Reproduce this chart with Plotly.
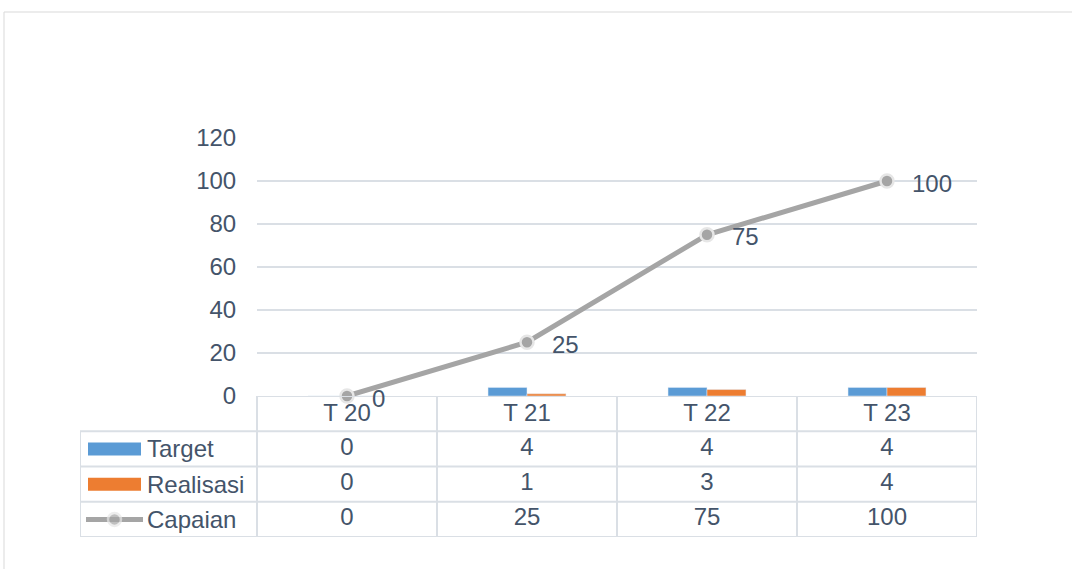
import plotly.graph_objects as go

categories = ["T 20", "T 21", "T 22", "T 23"]
target = [0, 4, 4, 4]
realisasi = [0, 1, 3, 4]
capaian = [0, 25, 75, 100]
series_names = ["Target", "Realisasi", "Capaian"]
y_ticks = [0, 20, 40, 60, 80, 100, 120]

BLUE = "#5b9bd5"
ORANGE = "#ed7d31"
GRAY = "#a5a5a5"
TXT = "#44546a"
GRID = "#dadfe5"
FONT = "Liberation Sans, Arial, sans-serif"
FS = 24

# layout geometry (pixels)
W, H = 1072, 569
L, R, T, B = 80, 95, 138, 32
pw = W - L - R
ph = H - T - B
chart_left = 257
col_w = 180
table_h = 141
xl = -0.5 - (chart_left - L) / col_w  # left edge of table label column in x2 units

fig = go.Figure()

fig.add_trace(go.Bar(x=categories, y=target, name="Target", marker=dict(color=BLUE),
                     xaxis="x", yaxis="y"))
fig.add_trace(go.Bar(x=categories, y=realisasi, name="Realisasi", marker=dict(color=ORANGE),
                     xaxis="x", yaxis="y"))
fig.add_trace(go.Scatter(x=categories, y=capaian, name="Capaian", mode="lines+markers",
                         line=dict(color=GRAY, width=5),
                         marker=dict(size=13, color=GRAY, line=dict(color="#e6e6e6", width=2.5)),
                         cliponaxis=False, xaxis="x", yaxis="y"))

annotations = []
# data labels on the line
for c, v in zip(categories, capaian):
    annotations.append(dict(xref="x", yref="y", x=c, y=v, text=str(v), showarrow=False,
                            xanchor="left", yanchor="middle", xshift=23, yshift=-2,
                            font=dict(family=FONT, size=FS, color=TXT)))

# ---- data table (x2/y2) ----
rows = [target, realisasi, capaian]
row_y = [2.5, 1.5, 0.5]
tx, ty, tt = [], [], []
for i, c in enumerate(categories):
    tx.append(i); ty.append(3.45); tt.append(c)
for r, vals in enumerate(rows):
    for i, v in enumerate(vals):
        tx.append(i); ty.append(row_y[r]); tt.append(str(v))
fig.add_trace(go.Scatter(x=tx, y=ty, mode="text", text=tt, textposition="middle center",
                         textfont=dict(family=FONT, size=FS, color=TXT),
                         cliponaxis=False, xaxis="x2", yaxis="y2", hoverinfo="skip"))

# Capaian legend key
kx0 = xl + 6 / col_w
kx1 = xl + 63 / col_w
fig.add_trace(go.Scatter(x=[kx0, (kx0 + kx1) / 2, kx1], y=[0.5, 0.5, 0.5], mode="lines+markers",
                         line=dict(color=GRAY, width=5),
                         marker=dict(size=[0, 13, 0], color=GRAY, line=dict(color="#e6e6e6", width=[0, 2.5, 0])),
                         cliponaxis=False, xaxis="x2", yaxis="y2", hoverinfo="skip"))

shapes = []
lc = dict(color=GRID, width=2)
# horizontal table lines
shapes.append(dict(type="line", xref="x2", yref="y2", x0=-0.5, x1=3.5, y0=4, y1=4, line=lc, layer="below"))
for yv in [3, 2, 1, 0]:
    shapes.append(dict(type="line", xref="x2", yref="y2", x0=xl, x1=3.5, y0=yv, y1=yv, line=lc, layer="below"))
# vertical table lines
for xv in [-0.5, 0.5, 1.5, 2.5, 3.5]:
    shapes.append(dict(type="line", xref="x2", yref="y2", x0=xv, x1=xv, y0=0, y1=4, line=lc, layer="below"))
shapes.append(dict(type="line", xref="x2", yref="y2", x0=xl, x1=xl, y0=0, y1=3, line=lc, layer="below"))
# legend keys (rects)
kh = 13 / (table_h / 4) / 2
kr0 = xl + 8 / col_w
kr1 = xl + 61 / col_w
shapes.append(dict(type="rect", xref="x2", yref="y2", x0=kr0, x1=kr1, y0=2.5 - kh, y1=2.5 + kh,
                   fillcolor=BLUE, line=dict(width=0)))
shapes.append(dict(type="rect", xref="x2", yref="y2", x0=kr0, x1=kr1, y0=1.5 - kh, y1=1.5 + kh,
                   fillcolor=ORANGE, line=dict(width=0)))
# outer chart frame
shapes.append(dict(type="rect", xref="paper", yref="paper",
                   x0=(4 - L) / pw, x1=(W + 10 - L) / pw,
                   y0=-(H + 10 - (H - B)) / ph, y1=((H - B) - 12) / ph,
                   line=dict(color="#d9d9d9", width=1), fillcolor="rgba(0,0,0,0)", layer="below"))

for r, name in enumerate(series_names):
    annotations.append(dict(xref="x2", yref="y2", x=xl + 65 / col_w, y=row_y[r], text=name,
                            showarrow=False, xanchor="left", yanchor="middle",
                            font=dict(family=FONT, size=FS, color=TXT)))

tdom = table_h / ph
fig.update_layout(
    width=W, height=H,
    margin=dict(l=L, r=R, t=T, b=B),
    paper_bgcolor="white", plot_bgcolor="white",
    showlegend=False,
    barmode="group", bargap=0.567, bargroupgap=0,
    font=dict(family=FONT, size=FS, color=TXT),
    xaxis=dict(domain=[(chart_left - L) / pw, 1], anchor="y", type="category",
               categoryorder="array", categoryarray=categories,
               range=[-0.5, 3.5], showticklabels=False, showgrid=False, zeroline=False,
               showline=False, ticks=""),
    yaxis=dict(domain=[tdom, 1], anchor="x", range=[0, 120], tickvals=y_ticks,
               showgrid=True, gridcolor=GRID, gridwidth=2, zeroline=False, showline=False,
               ticks="outside", ticklen=15, tickcolor="rgba(0,0,0,0)",
               tickfont=dict(family=FONT, size=FS, color=TXT)),
    xaxis2=dict(domain=[0, 1], anchor="y2", range=[xl, 3.5], visible=False),
    yaxis2=dict(domain=[0, tdom], anchor="x2", range=[0, 4], visible=False),
    shapes=shapes,
    annotations=annotations,
)

fig.write_html("out.html", config={"displayModeBar": False},
               post_script="document.body.style.margin='0';document.body.style.overflow='hidden';")
